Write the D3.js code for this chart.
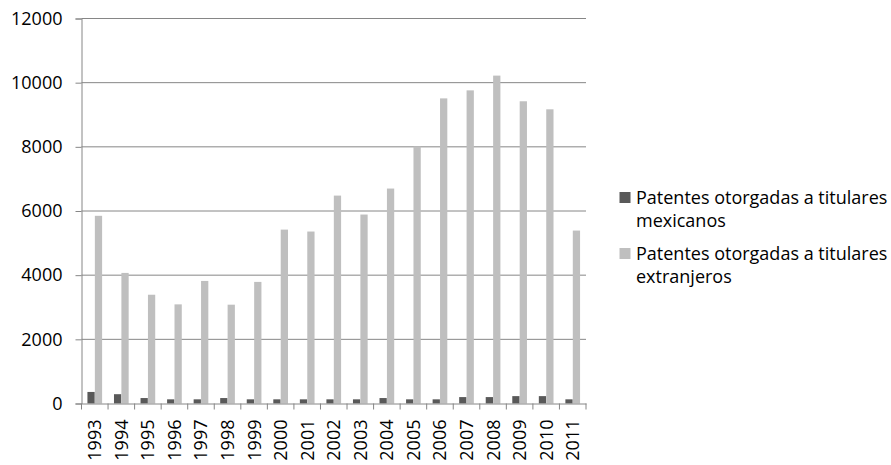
<!DOCTYPE html>
<html>
<head>
<meta charset="utf-8">
<script src="https://cdn.jsdelivr.net/npm/d3@7"></script>
<style>
  html, body { margin: 0; padding: 0; background: #fff; }
  svg { display: block; }
  text { font-family: "Open Sans", "Noto Sans", sans-serif; fill: #000; }
</style>
</head>
<body>
<svg id="chart" width="891" height="465"></svg>
<script>
// Patentes otorgadas en México, 1993–2011
const years = ["1993","1994","1995","1996","1997","1998","1999","2000","2001","2002",
               "2003","2004","2005","2006","2007","2008","2009","2010","2011"];
const mexicanos = [360, 290, 170, 130, 130, 170, 130, 130, 130, 130,
                   130, 170, 130, 130, 200, 200, 230, 230, 130];
const extranjeros = [5850, 4070, 3390, 3090, 3820, 3080, 3790, 5420, 5360, 6480,
                     5890, 6700, 8010, 9510, 9760, 10220, 9420, 9170, 5390];
const yTicks = [0, 2000, 4000, 6000, 8000, 10000, 12000];
const seriesKeys = ["mex", "ext"];

const rows = years.map((y, i) => ({ year: y, mex: mexicanos[i], ext: extranjeros[i] }));

const colors = { mex: "#595959", ext: "#bfbfbf" };
const gridColor = "#868686";
const fontSize = "18px";

const margin = { left: 81.5, top: 18.5, right: 305, bottom: 61.5 };
const W = 891, H = 465;
const svg = d3.select("#chart");

const x = d3.scaleBand().domain(years).range([margin.left, W - margin.right]).paddingInner(0).paddingOuter(0);
const xInner = d3.scaleBand().domain(seriesKeys).range([0, x.bandwidth()]).paddingInner(0.02).paddingOuter(0.8);
const y = d3.scaleLinear().domain([0, 12000]).range([H - margin.bottom, margin.top]);

// horizontal gridlines
svg.append("g")
  .selectAll("line")
  .data(yTicks.filter(d => d > 0))
  .join("line")
  .attr("x1", margin.left).attr("x2", W - margin.right)
  .attr("y1", d => y(d)).attr("y2", d => y(d))
  .attr("stroke", gridColor).attr("stroke-width", 1);

// bars
const groups = svg.append("g")
  .selectAll("g")
  .data(rows)
  .join("g")
  .attr("transform", d => `translate(${x(d.year)},0)`);

groups.selectAll("rect")
  .data(d => seriesKeys.map(k => ({ key: k, value: d[k] })))
  .join("rect")
  .attr("x", d => xInner(d.key))
  .attr("width", xInner.bandwidth())
  .attr("y", d => y(d.value))
  .attr("height", d => y(0) - y(d.value))
  .attr("fill", d => colors[d.key]);

// y axis
const yAxis = svg.append("g")
  .attr("transform", `translate(${margin.left},0)`)
  .call(d3.axisLeft(y).tickValues(yTicks).tickSize(6).tickPadding(13).tickFormat(d3.format("d")));
yAxis.selectAll("line, path").attr("stroke", gridColor);
yAxis.selectAll("text").attr("font-size", fontSize).attr("font-family", "'Open Sans', sans-serif").attr("fill", "#000");

// x axis: ticks at category boundaries
const xAxis = svg.append("g")
  .attr("transform", `translate(0,${y(0)})`)
  .call(d3.axisBottom(x).tickSize(0).tickPadding(0));
xAxis.select("path").attr("stroke", gridColor);
xAxis.selectAll("text").remove();

svg.append("g")
  .selectAll("line")
  .data(years.map(d => x(d)).concat([x(years[years.length - 1]) + x.bandwidth()]))
  .join("line")
  .attr("x1", d => d).attr("x2", d => d)
  .attr("y1", y(0)).attr("y2", y(0) + 6)
  .attr("stroke", gridColor);

svg.append("g")
  .selectAll("text")
  .data(years)
  .join("text")
  .attr("transform", d => `translate(${x(d) + x.bandwidth() / 2 + 6.5},${y(0) + 16}) rotate(-90)`)
  .attr("text-anchor", "end")
  .attr("font-size", fontSize)
  .text(d => d);

// legend
const legend = svg.append("g");
const legendItems = [
  { key: "mex", lines: ["Patentes otorgadas a titulares", "mexicanos"], y: 203.5 },
  { key: "ext", lines: ["Patentes otorgadas a titulares", "extranjeros"], y: 259.5 }
];
legendItems.forEach(it => {
  legend.append("rect")
    .attr("x", 619.5).attr("y", it.y - 11.5)
    .attr("width", 11).attr("height", 11)
    .attr("fill", colors[it.key]);
  it.lines.forEach((ln, j) => {
    legend.append("text")
      .attr("x", 636).attr("y", it.y + j * 23.5)
      .attr("font-size", fontSize)
      .text(ln);
  });
});
</script>
</body>
</html>
